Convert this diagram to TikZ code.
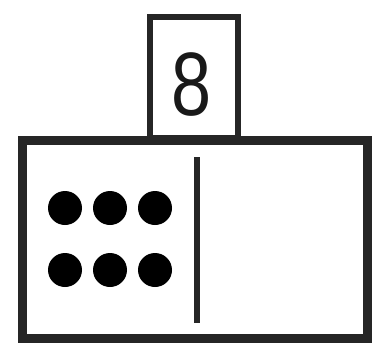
\documentclass[tikz,border=0pt]{standalone}
\usepackage{fontspec}
\setmainfont{Liberation Sans}
\begin{document}
\begin{tikzpicture}[x=1pt,y=-1pt,
  box/.style={draw=black!85, inner sep=0pt, outer sep=0pt},
  dot/.style={fill=black}]
\useasboundingbox (0,0) rectangle (375,343);
\node[box, line width=6.5pt, minimum width=88pt, minimum height=121pt] (tab) at (194,77.5) {};
\node[inner sep=0pt, text=black!90, font=\fontsize{90}{90}\selectfont] (num) at (192,85) {\scalebox{0.8}[1]{8}};
\node[box, fill=white, line width=9pt, minimum width=345pt, minimum height=198pt] (body) at (194.5,239) {};
\coordinate (dtop) at (197,157);
\coordinate (dbot) at (197,323);
\draw[line width=6.5pt, draw=black!85] (dtop) -- (dbot);
\foreach \i/\x in {1/65,2/110,3/155}{
  \fill[dot] (\x,208) circle[radius=17pt];
  \fill[dot] (\x,270) circle[radius=17pt];
}
\end{tikzpicture}
\end{document}
